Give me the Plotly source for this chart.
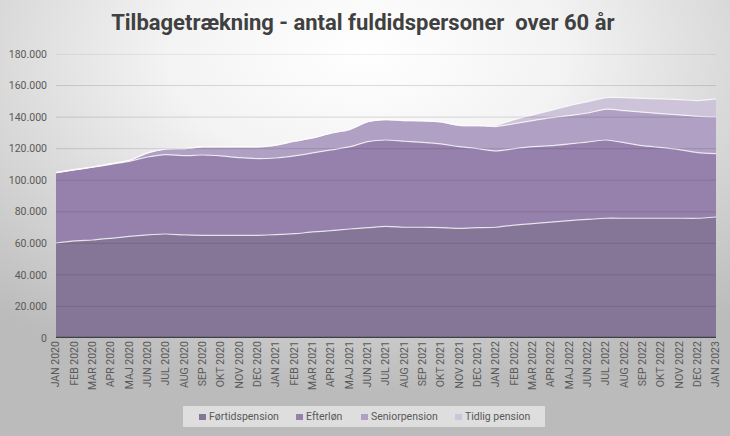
import base64
import plotly.graph_objects as go

months = ["JAN 2020", "FEB 2020", "MAR 2020", "APR 2020", "MAJ 2020", "JUN 2020", "JUL 2020",
          "AUG 2020", "SEP 2020", "OKT 2020", "NOV 2020", "DEC 2020",
          "JAN 2021", "FEB 2021", "MAR 2021", "APR 2021", "MAJ 2021", "JUN 2021", "JUL 2021",
          "AUG 2021", "SEP 2021", "OKT 2021", "NOV 2021", "DEC 2021",
          "JAN 2022", "FEB 2022", "MAR 2022", "APR 2022", "MAJ 2022", "JUN 2022", "JUL 2022",
          "AUG 2022", "SEP 2022", "OKT 2022", "NOV 2022", "DEC 2022", "JAN 2023"]

fortidspension = [60200, 61500, 62100, 63200, 64400, 65300, 65900, 65300, 65100, 65100, 65100, 65100,
                  65500, 66100, 67200, 68000, 69100, 69900, 70800, 70200, 70200, 69900, 69500, 69900,
                  70200, 71600, 72500, 73500, 74400, 75200, 75900, 75900, 75900, 75900, 75900, 75900,
                  76700]
efterlon = [44600, 45000, 46100, 46900, 47600, 49400, 50300, 50300, 50900, 50300, 49200, 48600,
            48600, 49300, 50100, 51200, 52000, 54600, 54700, 54500, 53800, 53100, 51800, 50100,
            48300, 48400, 48800, 48400, 48600, 49000, 49600, 47900, 46000, 44800, 43500, 41600,
            40200]
seniorpension = [0, 200, 200, 400, 600, 2600, 3600, 4400, 5100, 5700, 6800, 7400,
                 8200, 9300, 9500, 10600, 11000, 12600, 12900, 13100, 13600, 13900, 13500, 14600,
                 15500, 15900, 16500, 17800, 17900, 18400, 19500, 20300, 21200, 21500, 22000, 23000,
                 23200]
tidlig_pension = [0, 0, 0, 0, 0, 0, 0, 0, 0, 0, 0, 0,
                  0, 0, 0, 0, 0, 0, 0, 0, 0, 0, 0, 0,
                  800, 2500, 3600, 4600, 6400, 7200, 7400, 8300, 8800, 9300, 9700, 9900,
                  11400]

series_names = ["Førtidspension", "Efterløn", "Seniorpension", "Tidlig pension"]
series_values = [fortidspension, efterlon, seniorpension, tidlig_pension]
series_colors = ["#857597", "#9581AB", "#B0A0C3", "#CDC4D9"]

y_ticks = [0, 20000, 40000, 60000, 80000, 100000, 120000, 140000, 160000, 180000]
y_ticktext = ["0", "20.000", "40.000", "60.000", "80.000", "100.000", "120.000", "140.000",
              "160.000", "180.000"]

W, H = 730, 436
ML, MR, MT, MB = 56, 14, 54, 98
PW, PH = W - ML - MR, H - MT - MB


def px(xp):
    return (xp - ML) / PW


def py(yp):
    return (MT + PH - yp) / PH


x = list(range(len(months)))

fig = go.Figure()
for name, vals, col in zip(series_names, series_values, series_colors):
    fig.add_trace(go.Scatter(
        x=x, y=vals, name=name, stackgroup="one", mode="lines",
        line=dict(color="rgba(255,255,255,0.75)", width=1.2, shape="spline", smoothing=0.5),
        fillcolor=col, hoverinfo="skip", showlegend=False,
    ))

svg = f'''<svg xmlns="http://www.w3.org/2000/svg" width="{W}" height="{H}" viewBox="0 0 {W} {H}" preserveAspectRatio="none">
<defs><radialGradient id="g" cx="50%" cy="12%" r="78%">
<stop offset="0" stop-color="#FFFFFF"/><stop offset="0.35" stop-color="#F3F3F3"/>
<stop offset="1" stop-color="#BBBBBB"/></radialGradient></defs>
<rect width="{W}" height="{H}" fill="url(#g)"/></svg>'''
src = "data:image/svg+xml;base64," + base64.b64encode(svg.encode()).decode()

fig.add_layout_image(dict(
    source=src, xref="paper", yref="paper",
    x=px(0), y=py(0), sizex=W / PW, sizey=H / PH,
    xanchor="left", yanchor="top", sizing="stretch", layer="below",
))

# gridlines drawn over the areas (semi-transparent), as in the original
for v in y_ticks[1:]:
    fig.add_shape(type="line", xref="paper", yref="y", x0=0, x1=1, y0=v, y1=v,
                  line=dict(color="rgba(60,40,80,0.16)", width=1), layer="above")
fig.add_shape(type="line", xref="paper", yref="y", x0=0, x1=1, y0=0, y1=0,
              line=dict(color="#404040", width=2.5), layer="above")

# legend (built by hand to match the compact Excel legend)
fig.add_shape(type="rect", xref="paper", yref="paper", x0=px(183), x1=px(545),
              y0=py(427), y1=py(406), line=dict(width=0),
              fillcolor="rgba(228,228,228,0.85)", layer="above")
legend_x = [199, 296, 361, 455]
font_fam = "Roboto, sans-serif"
for name, col, lx in zip(series_names, series_colors, legend_x):
    fig.add_shape(type="rect", xref="paper", yref="paper", x0=px(lx), x1=px(lx + 7),
                  y0=py(420), y1=py(414), line=dict(width=0), fillcolor=col, layer="above")
    fig.add_annotation(
        xref="paper", yref="paper", x=px(lx + 8), y=py(416.5), xanchor="left", yanchor="middle",
        showarrow=False, text=name,
        font=dict(family=font_fam, size=10.5, color="#595959"),
    )

fig.update_layout(
    width=W, height=H,
    margin=dict(l=ML, r=MR, t=MT, b=MB, autoexpand=False),
    paper_bgcolor="#DADADA",
    plot_bgcolor="rgba(0,0,0,0)",
    title=dict(text="Tilbagetrækning - antal fuldidspersoner  over 60 år",
               x=0.497, xanchor="center", y=0.948, yanchor="middle",
               font=dict(family="Roboto, sans-serif", size=22, color="#404040", weight="bold")),
    showlegend=False,
    xaxis=dict(range=[0, len(months) - 1], tickmode="array", tickvals=x, ticktext=months,
               tickangle=-90, showgrid=False, zeroline=False, showline=False, ticks="",
               automargin=False,
               tickfont=dict(family=font_fam, size=10.5, color="#595959")),
    yaxis=dict(range=[0, 180000], tickmode="array", tickvals=y_ticks, ticktext=y_ticktext,
               showgrid=False, zeroline=False, showline=False, ticks="", automargin=False,
               ticklabelstandoff=8,
               tickfont=dict(family=font_fam, size=10.5, color="#595959")),
)

fig.write_html("out.html")
